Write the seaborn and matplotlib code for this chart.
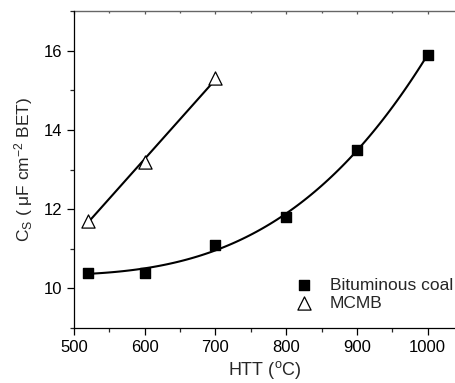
import numpy as np
import pandas as pd
import matplotlib
matplotlib.use("Agg")
import matplotlib.pyplot as plt
from matplotlib.ticker import MultipleLocator
import seaborn as sns

# Data
htt_coal = [520, 600, 700, 800, 900, 1000]
cs_coal = [10.4, 10.4, 11.1, 11.8, 13.5, 15.9]
htt_mcmb = [520, 600, 700]
cs_mcmb = [11.7, 13.2, 15.3]
x_ticks = [500, 600, 700, 800, 900, 1000]
y_ticks = [10, 12, 14, 16]

sns.set_style("ticks")
plt.rcParams['font.family'] = ['Liberation Sans', 'DejaVu Sans']
plt.rcParams['mathtext.fontset'] = 'custom'
plt.rcParams['mathtext.rm'] = 'Liberation Sans'
plt.rcParams['mathtext.it'] = 'Liberation Sans:italic'

df_coal = pd.DataFrame({"HTT": htt_coal, "Cs": cs_coal})
df_mcmb = pd.DataFrame({"HTT": htt_mcmb, "Cs": cs_mcmb})

fig = plt.figure(figsize=(4.56, 3.83), dpi=100)
ax = fig.add_axes([0.162, 0.1436, 0.838, 0.8275])

sns.regplot(data=df_coal, x="HTT", y="Cs", order=3, ci=None, scatter=False,
            truncate=True, line_kws=dict(color="black", lw=1.5), ax=ax)
sns.regplot(data=df_mcmb, x="HTT", y="Cs", order=1, ci=None, scatter=False,
            truncate=True, line_kws=dict(color="black", lw=1.5), ax=ax)

ax.scatter(df_coal["HTT"], df_coal["Cs"], marker="s", s=55, color="black",
           zorder=3, label="Bituminous coal")
ax.scatter(df_mcmb["HTT"], df_mcmb["Cs"], marker="^", s=90, facecolor="white",
           edgecolor="black", linewidth=0.9, zorder=3, label="MCMB")

ax.set_xlim(500, 1040)
ax.set_ylim(9, 17)
ax.set_xticks(x_ticks)
ax.set_yticks(y_ticks)
ax.xaxis.set_minor_locator(MultipleLocator(50))
ax.yaxis.set_minor_locator(MultipleLocator(1))
ax.tick_params(axis="both", which="major", direction="out", length=5, width=0.9,
               labelsize=12, colors="black")
ax.tick_params(axis="both", which="minor", direction="out", length=3, width=0.9)
ax.spines["right"].set_visible(False)
ax.spines["top"].set_visible(False)
for s in ["left", "bottom"]:
    ax.spines[s].set_linewidth(0.9)
    ax.spines[s].set_color("black")

axt = ax.secondary_xaxis("top")
axt.set_xticks(x_ticks)
axt.xaxis.set_minor_locator(MultipleLocator(50))
axt.tick_params(which="major", direction="in", length=2, width=0.9,
                labeltop=False, color="#555555")
axt.tick_params(which="minor", direction="in", length=1.5, width=0.9, color="#555555")
axt.set_xticklabels([])
axt.spines["top"].set_linewidth(1.0)
axt.spines["top"].set_color("#666666")

ax.set_xlabel("HTT ($^\\mathrm{o}$C)", fontsize=13, labelpad=3)
ax.set_ylabel("C$_\\mathrm{S}$ ( μF cm$^{-2}$ BET)", fontsize=12.5, labelpad=6)

ax.legend(loc="lower right", bbox_to_anchor=(1.02, 0.022), frameon=False,
          fontsize=12.5, handletextpad=0.5, labelspacing=0.15, borderaxespad=0.2)

fig.savefig("out.png", dpi=100)
